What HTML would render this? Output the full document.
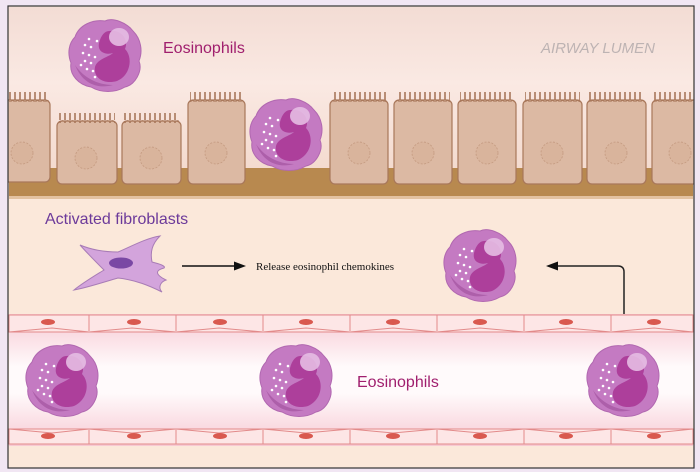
<!DOCTYPE html>
<html><head><meta charset="utf-8"><style>
body{margin:0;width:700px;height:472px;background:#f1e6f3;overflow:hidden}
svg{display:block}
</style></head><body>
<svg width="700" height="472" viewBox="0 0 700 472" xmlns="http://www.w3.org/2000/svg">
<defs>
<clipPath id="fr"><rect x="8" y="6" width="686" height="462"/></clipPath>
<linearGradient id="top" x1="0" y1="0" x2="0" y2="1"><stop offset="0" stop-color="#f3dcd4"/><stop offset="0.4" stop-color="#fae9e3"/><stop offset="1" stop-color="#f2d6c8"/></linearGradient>
<linearGradient id="ves" x1="0" y1="0" x2="0" y2="1"><stop offset="0" stop-color="#f7c9d3"/><stop offset="0.4" stop-color="#fffafb"/><stop offset="0.6" stop-color="#fffafb"/><stop offset="1" stop-color="#f7c9d3"/></linearGradient>
<g id="eo">
<path d="M-30,-18 C-26,-30 -12,-36 0,-34 C8,-38 22,-32 28,-24 C36,-16 38,-4 34,6 C38,16 30,30 20,32 C10,38 -4,38 -14,32 C-26,30 -36,20 -34,8 C-38,-2 -36,-12 -30,-18Z" fill="#c47ac2" stroke="#b168b0" stroke-width="1"/>
<path d="M-30,10 C-22,22 -8,30 8,30 C-6,34 -22,30 -30,10Z" fill="#ad5faa"/>
<path d="M4,-24 C16,-26 24,-16 20,-6 C28,2 26,20 12,26 C-2,30 -12,22 -10,12 C-8,4 4,2 8,-2 C2,0 -8,-2 -6,-12 C-4,-20 0,-24 4,-24Z" fill="#ad3f9b"/>
<ellipse cx="14" cy="-18" rx="10" ry="9" fill="#e6bde3" opacity="0.9"/>
<g fill="#fff"><circle cx="-16" cy="-16" r="1.3"/><circle cx="-20" cy="-10" r="1.3"/><circle cx="-14" cy="-8" r="1.3"/><circle cx="-22" cy="-2" r="1.3"/><circle cx="-16" cy="0" r="1.3"/><circle cx="-10" cy="2" r="1.3"/><circle cx="-20" cy="6" r="1.3"/><circle cx="-14" cy="8" r="1.3"/><circle cx="-18" cy="14" r="1.3"/><circle cx="-12" cy="16" r="1.3"/><circle cx="-8" cy="-14" r="1.3"/><circle cx="-24" cy="10" r="1.3"/><circle cx="-10" cy="22" r="1.3"/></g>
</g>
<pattern id="vil" width="5" height="10" patternUnits="userSpaceOnUse"><path d="M0.5,10 V2 Q2.5,-1 4.5,2 V10" fill="none" stroke="#a8775a" stroke-width="0.8"/></pattern>
</defs>
<rect x="8" y="6" width="686" height="462" fill="#fbe8da"/>
<g clip-path="url(#fr)">
<rect x="9" y="7" width="684" height="190" fill="url(#top)"/>
<rect x="9" y="168" width="684" height="30" fill="#b8894f"/>
<rect x="9" y="196" width="684" height="3" fill="#e3c2a0"/>
<g fill="#dcb9a3" stroke="#a8775a" stroke-width="1.2">
<rect x="2" y="100" width="48" height="82" rx="5"/>
<rect x="57" y="121" width="60" height="63" rx="5"/>
<rect x="122" y="121" width="59" height="63" rx="5"/>
<rect x="188" y="100" width="57" height="84" rx="5"/>
<rect x="330" y="100" width="58" height="84" rx="5"/>
<rect x="394" y="100" width="58" height="84" rx="5"/>
<rect x="458" y="100" width="58" height="84" rx="5"/>
<rect x="523" y="100" width="59" height="84" rx="5"/>
<rect x="587" y="100" width="59" height="84" rx="5"/>
<rect x="652" y="100" width="50" height="84" rx="5"/>
</g>
<g fill="url(#vil)">
<rect x="9" y="92" width="40" height="10"/><rect x="59" y="113" width="56" height="10"/><rect x="124" y="113" width="55" height="10"/><rect x="190" y="92" width="53" height="10"/><rect x="332" y="92" width="54" height="10"/><rect x="396" y="92" width="54" height="10"/><rect x="460" y="92" width="54" height="10"/><rect x="525" y="92" width="55" height="10"/><rect x="589" y="92" width="55" height="10"/><rect x="654" y="92" width="39" height="10"/>
</g>
<g fill="#d9b49c" stroke="#c49a80" stroke-width="0.8" stroke-dasharray="2,1.5">
<circle cx="22" cy="153" r="11"/><circle cx="86" cy="158" r="11"/><circle cx="151" cy="158" r="11"/><circle cx="216" cy="153" r="11"/><circle cx="359" cy="153" r="11"/><circle cx="423" cy="153" r="11"/><circle cx="487" cy="153" r="11"/><circle cx="552" cy="153" r="11"/><circle cx="616" cy="153" r="11"/><circle cx="680" cy="153" r="11"/>
</g>
<use href="#eo" x="105" y="55"/>
<use href="#eo" x="286" y="134"/>
<text x="163" y="53" font-family="Liberation Sans, sans-serif" font-size="16" fill="#a01f6e">Eosinophils</text>
<text x="541" y="53" font-family="Liberation Sans, sans-serif" font-size="15" font-style="italic" fill="#bdb3b3">AIRWAY LUMEN</text>
<text x="45" y="224" font-family="Liberation Sans, sans-serif" font-size="16" fill="#6c3a9a">Activated fibroblasts</text>
<path d="M80,245 C92,250 106,252 118,252 C128,248 146,238 160,236 C152,244 150,252 152,262 C160,264 166,266 164,268 C156,270 154,274 166,280 C160,282 158,288 162,292 C150,286 136,280 118,278 C104,282 86,288 74,290 C84,282 96,275 104,270 C96,262 88,254 80,245Z" fill="#d3a4dc" stroke="#a87cb6" stroke-width="1"/>
<ellipse cx="121" cy="263" rx="12" ry="5.5" fill="#7a48a4"/>
<line x1="182" y1="266" x2="236" y2="266" stroke="#111" stroke-width="1.5"/>
<polygon points="246,266 234,261.5 234,270.5" fill="#111"/>
<text x="256" y="270" font-family="Liberation Serif, serif" font-size="11" fill="#111">Release eosinophil chemokines</text>
<use href="#eo" x="480" y="265"/>
<path d="M624,340 V272 Q624,266 618,266 H558" fill="none" stroke="#222" stroke-width="1.5"/>
<polygon points="546,266 558,261.5 558,270.5" fill="#111"/>
<rect x="9" y="314" width="684" height="132" fill="url(#ves)"/>
<g fill="#fde6e6" stroke="#e28a8a" stroke-width="1">
<path d="M9,315 H693 V332 H9Z"/><path d="M9,429 H693 V444 H9Z"/>
</g>
<g stroke="#e28a8a" stroke-width="1" fill="none">
<path d="M9,332 L52,328 L89,332 L132,328 L176,332 L219,328 L263,332 L306,328 L350,332 L393,328 L437,332 L480,328 L524,332 L567,328 L611,332 L654,328 L693,332"/>
<path d="M9,429 L52,433 L89,429 L132,433 L176,429 L219,433 L263,429 L306,433 L350,429 L393,433 L437,429 L480,433 L524,429 L567,433 L611,429 L654,433 L693,429"/>
<path d="M89,315V331M176,315V331M263,315V331M350,315V331M437,315V331M524,315V331M611,315V331M89,430V444M176,430V444M263,430V444M350,430V444M437,430V444M524,430V444M611,430V444"/>
</g>
<g fill="#d9594f">
<ellipse cx="48" cy="322" rx="7" ry="3"/><ellipse cx="134" cy="322" rx="7" ry="3"/><ellipse cx="220" cy="322" rx="7" ry="3"/><ellipse cx="306" cy="322" rx="7" ry="3"/><ellipse cx="393" cy="322" rx="7" ry="3"/><ellipse cx="480" cy="322" rx="7" ry="3"/><ellipse cx="566" cy="322" rx="7" ry="3"/><ellipse cx="654" cy="322" rx="7" ry="3"/>
<ellipse cx="48" cy="436" rx="7" ry="3"/><ellipse cx="134" cy="436" rx="7" ry="3"/><ellipse cx="220" cy="436" rx="7" ry="3"/><ellipse cx="306" cy="436" rx="7" ry="3"/><ellipse cx="393" cy="436" rx="7" ry="3"/><ellipse cx="480" cy="436" rx="7" ry="3"/><ellipse cx="566" cy="436" rx="7" ry="3"/><ellipse cx="654" cy="436" rx="7" ry="3"/>
</g>
<use href="#eo" x="62" y="380"/>
<use href="#eo" x="296" y="380"/>
<use href="#eo" x="623" y="380"/>
<text x="357" y="387" font-family="Liberation Sans, sans-serif" font-size="16" fill="#a01f6e">Eosinophils</text>
</g>
<rect x="8" y="6" width="686" height="462" fill="none" stroke="#333" stroke-width="1.2"/>
</svg>
</body></html>
